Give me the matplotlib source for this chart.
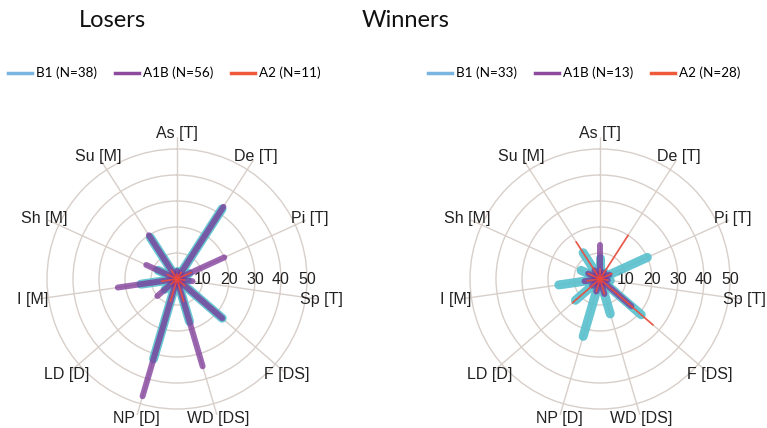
import numpy as np
import matplotlib
matplotlib.use("Agg")
import matplotlib.pyplot as plt
from matplotlib.lines import Line2D

categories = ['As [T]', 'De [T]', 'Pi [T]', 'Sp [T]', 'F [DS]', 'WD [DS]',
              'NP [D]', 'LD [D]', 'I [M]', 'Sh [M]', 'Su [M]']
r_ticks = [10, 20, 30, 40, 50]
series = ['B1', 'A1B', 'A2']

losers_n = [38, 56, 11]
losers_B1 = [3, 32, 5, 4, 23, 17, 32, 6, 14, 8, 19]
losers_A1B = [3, 33, 20, 6, 23, 35, 47, 10, 23, 13, 20]
losers_A2 = [2, 3, 6, 3, 4, 9, 9, 3, 6, 4, 4]

winners_n = [33, 13, 28]
winners_B1 = [8, 3, 20, 4, 21, 14, 23, 12.5, 16, 8, 12]
winners_A1B = [13, 3, 4, 3, 16, 6, 5, 4, 6, 5, 4]
winners_A2 = [4, 20, 5, 3, 27, 6, 5, 14, 5, 5, 17]

line_colors = {'B1': '#58c0cd', 'A1B': '#7a3496', 'A2': '#ee4a3a'}
legend_colors = {'B1': '#7ab4e0', 'A1B': '#8e4a9c', 'A2': '#f05a3c'}
widths = {'B1': 6.5, 'A1B': 4.3, 'A2': 1.2}
alphas = {'B1': 0.9, 'A1B': 0.74, 'A2': 0.9}
grid_color = '#d8cfca'

fig = plt.figure(figsize=(7.67, 4.28), dpi=100)

RMAX = 54.5
LABEL_R = 56
angles = np.arange(len(categories)) * 2 * np.pi / len(categories)


def draw(ax_rect, data, title, title_x, n_list, legend_x):
    ax = fig.add_axes(ax_rect, projection='polar')
    ax.set_theta_zero_location('N')
    ax.set_theta_direction(-1)
    ax.set_ylim(0, RMAX)
    ax.spines['polar'].set_visible(False)
    ax.set_thetagrids(np.degrees(angles), labels=[''] * len(categories))
    ax.set_rgrids(r_ticks, labels=[''] * len(r_ticks))
    ax.grid(True, color=grid_color, linewidth=1.0)
    for th, lab in zip(angles, categories):
        ax.text(th, LABEL_R, lab, ha='center', va='center', clip_on=False,
                fontsize=11.5, family='Liberation Sans', color='#222222')
    for r in r_ticks:
        ax.text(np.pi / 2, r, str(r), ha='center', va='center',
                fontsize=11.5, family='Liberation Sans', color='#222222')
    for s in series:
        vals = data[s]
        for th, v in zip(angles, vals):
            ax.plot([th, th], [0, v], color=line_colors[s], lw=widths[s],
                    alpha=alphas[s], solid_capstyle='round', zorder=3)
    fig.text(title_x, 0.953, title, ha='center', va='center', fontsize=17,
             family='Lato', color='#111111')
    handles = [Line2D([], [], color=legend_colors[s], lw=2.5) for s in series]
    labels = [f'{s} (N={n})' for s, n in zip(series, n_list)]
    fig.legend(handles, labels, loc='center left',
               bbox_to_anchor=(legend_x, 0.829), ncol=3, frameon=False,
               prop={'family': 'Lato', 'size': 9.7}, handlelength=1.8,
               handletextpad=0.3, columnspacing=1.3, borderpad=0,
               borderaxespad=0)
    return ax


W, H = 767, 428
R_px = RMAX * 2.6


def rect(cx, cy):
    return [(cx - R_px) / W, (H - cy - R_px) / H, 2 * R_px / W, 2 * R_px / H]


draw(rect(177, 279), {'B1': losers_B1, 'A1B': losers_A1B, 'A2': losers_A2},
     'Losers', 112 / W, losers_n, 8 / W)
draw(rect(600, 279), {'B1': winners_B1, 'A1B': winners_A1B, 'A2': winners_A2},
     'Winners', 406 / W, winners_n, 428 / W)

fig.savefig('out.png', dpi=100)
